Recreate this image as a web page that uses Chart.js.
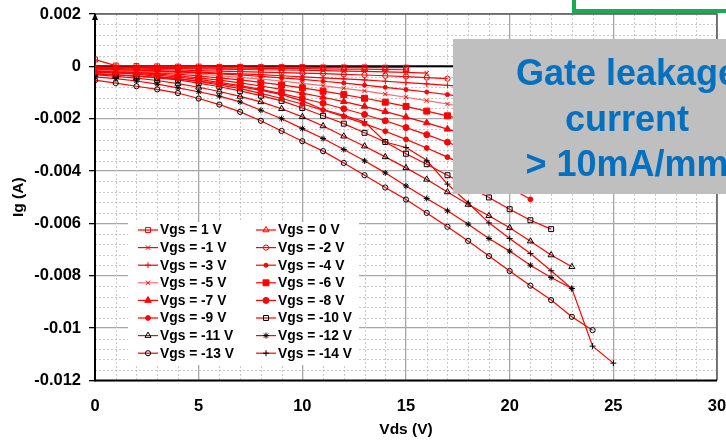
<!DOCTYPE html>
<html>
<head>
<meta charset="utf-8">
<script src="https://cdn.jsdelivr.net/npm/chart.js@4.4.1/dist/chart.umd.min.js"></script>
<style>
  html, body { margin: 0; padding: 0; background: #fff; }
  #wrap { width: 726px; height: 441px; }
</style>
</head>
<body>
<div id="wrap"><canvas id="chart" width="726" height="441"></canvas></div>
<script>
// Vds sweep (V) and gate current per Vgs in mA
const vds = [0,1,2,3,4,5,6,7,8,9,10,11,12,13,14,15,16,17,18,19,20,21,22,23,24,25];
const vgsLabels = ['Vgs = 1 V','Vgs = 0 V','Vgs = -1 V','Vgs = -2 V','Vgs = -3 V','Vgs = -4 V',
  'Vgs = -5 V','Vgs = -6 V','Vgs = -7 V','Vgs = -8 V','Vgs = -9 V','Vgs = -10 V',
  'Vgs = -11 V','Vgs = -12 V','Vgs = -13 V','Vgs = -14 V'];

const ig_p1 = [0.26,0.03,0.01,0.00,-0.01,-0.01,-0.02,-0.02,-0.03,-0.03,-0.03,-0.04,-0.04,-0.04,-0.05,-0.05];
const ig_0 = [-0.02,-0.03,-0.04,-0.05,-0.05,-0.06,-0.07,-0.07,-0.08,-0.09,-0.09,-0.10,-0.11,-0.11,-0.12,-0.13];
const ig_m1 = [-0.05,-0.06,-0.07,-0.08,-0.09,-0.10,-0.11,-0.12,-0.13,-0.14,-0.15,-0.16,-0.18,-0.19,-0.21,-0.23,-0.26];
const ig_m2 = [-0.08,-0.09,-0.11,-0.12,-0.14,-0.16,-0.18,-0.20,-0.22,-0.24,-0.26,-0.28,-0.31,-0.33,-0.36,-0.39,-0.43,-0.47];
const ig_m3 = [-0.10,-0.12,-0.14,-0.17,-0.19,-0.22,-0.26,-0.29,-0.32,-0.36,-0.40,-0.44,-0.48,-0.52,-0.57,-0.62,-0.67,-0.73,-0.78];
const ig_m4 = [-0.12,-0.13,-0.15,-0.18,-0.21,-0.25,-0.29,-0.33,-0.38,-0.44,-0.50,-0.57,-0.64,-0.72,-0.80,-0.89,-0.98,-1.08,-1.18,-1.29];
const ig_m5 = [-0.14,-0.16,-0.18,-0.22,-0.26,-0.30,-0.36,-0.42,-0.49,-0.56,-0.65,-0.74,-0.84,-0.94,-1.06,-1.18,-1.31,-1.44,-1.58,-1.73];
const ig_m6 = [-0.16,-0.18,-0.21,-0.25,-0.30,-0.37,-0.44,-0.52,-0.61,-0.71,-0.82,-0.95,-1.08,-1.22,-1.37,-1.53,-1.71,-1.89,-2.08,-2.29,-2.50];
const ig_m7 = [-0.18,-0.20,-0.24,-0.29,-0.36,-0.44,-0.53,-0.63,-0.75,-0.88,-1.02,-1.18,-1.35,-1.53,-1.73,-1.94,-2.16,-2.40,-2.65,-2.91,-3.19];
const ig_m8 = [-0.20,-0.23,-0.27,-0.33,-0.41,-0.50,-0.61,-0.74,-0.88,-1.04,-1.22,-1.41,-1.62,-1.84,-2.08,-2.34,-2.61,-2.90,-3.21,-3.53,-3.87];
const ig_m9 = [-0.22,-0.25,-0.30,-0.38,-0.47,-0.58,-0.71,-0.85,-1.03,-1.23,-1.44,-1.67,-1.92,-2.19,-2.48,-2.79,-3.12,-3.47,-3.84,-4.23,-4.64,-5.08];
const ig_m10 = [-0.28,-0.32,-0.37,-0.44,-0.52,-0.64,-0.78,-0.94,-1.12,-1.32,-1.59,-1.89,-2.19,-2.54,-2.89,-3.34,-3.74,-4.16,-4.58,-5.01,-5.46,-5.88,-6.22];
const ig_m11 = [-0.32,-0.38,-0.45,-0.54,-0.66,-0.80,-0.96,-1.15,-1.36,-1.62,-1.93,-2.28,-2.67,-3.05,-3.46,-3.88,-4.32,-4.80,-5.28,-5.71,-6.17,-6.68,-7.21,-7.66];
const ig_m12 = [-0.40,-0.47,-0.56,-0.68,-0.82,-0.97,-1.14,-1.36,-1.68,-2.00,-2.38,-2.76,-3.18,-3.61,-4.07,-4.57,-5.05,-5.52,-6.03,-6.58,-7.06,-7.60,-8.07,-8.49];
const ig_m13 = [-0.53,-0.64,-0.76,-0.88,-1.02,-1.23,-1.46,-1.74,-2.08,-2.47,-2.86,-3.24,-3.69,-4.16,-4.63,-5.09,-5.60,-6.13,-6.67,-7.25,-7.82,-8.38,-8.93,-9.57,-10.08];
const ig_m14 = [-0.30,-0.33,-0.37,-0.42,-0.48,-0.56,-0.66,-0.78,-0.92,-1.08,-1.32,-1.65,-1.87,-2.12,-2.89,-3.10,-3.59,-4.50,-5.22,-5.98,-6.58,-7.15,-7.81,-8.49,-10.69,-11.34];

const igSeries = [ig_p1, ig_0, ig_m1, ig_m2, ig_m3, ig_m4, ig_m5, ig_m6, ig_m7, ig_m8, ig_m9, ig_m10, ig_m11, ig_m12, ig_m13, ig_m14];

const xTickValues = [0,5,10,15,20,25,30];
const yTickValues = [0.002,0,-0.002,-0.004,-0.006,-0.008,-0.01,-0.012];
const yTickLabels = ['0.002','0','-0.002','-0.004','-0.006','-0.008','-0.01','-0.012'];

const calloutLines = ['Gate leakage', 'current', '> 10mA/mm'];

// marker look per series: [pointStyle, marker colour, filled, radius, line colour]
const markerStyles = [
  ['rect', '#ff0000', false, 3.5, '#ff0000'],
  ['triangle', '#ff0000', false, 3.5, '#ff0000'],
  ['crossRot', '#ff0000', false, 3, '#ff0000'],
  ['circle', '#ff0000', false, 2.6, '#ff0000'],
  ['cross', '#ff0000', false, 3, '#ff0000'],
  ['circle', '#ff0000', true, 2, '#ff0000'],
  ['crossRot', '#ff0000', false, 3, '#ff6a6a'],
  ['rect', '#ff0000', true, 4.2, '#ff0000'],
  ['triangle', '#ff0000', true, 3.8, '#ff0000'],
  ['circle', '#ff0000', true, 3, '#ff0000'],
  ['circle', '#ff0000', true, 2.4, '#ff0000'],
  ['rect', '#000000', false, 3.5, '#ff0000'],
  ['triangle', '#000000', false, 3.5, '#ff0000'],
  ['star', '#000000', false, 3, '#ff0000'],
  ['circle', '#000000', false, 2.6, '#ff0000'],
  ['cross', '#000000', false, 3, '#ff0000']
];

const FONT = '"Liberation Sans", Arial, sans-serif';
Chart.defaults.font.family = FONT;

const datasets = igSeries.map((serie, i) => {
  const [style, mColor, filled, radius, lineColor] = markerStyles[i];
  return {
    label: vgsLabels[i],
    data: serie.map((ma, k) => ({ x: vds[k], y: ma / 1000 })),
    borderColor: lineColor,
    borderWidth: 1.2,
    pointStyle: style,
    pointRadius: radius,
    pointBorderWidth: 1,
    pointBorderColor: mColor,
    pointBackgroundColor: filled ? mColor : 'rgba(0,0,0,0)',
    tension: 0,
    fill: false
  };
});

// Linhas de grade secundárias tracejadas + eixos
const gradeSecundaria = {
  id: 'gradeSecundaria',
  beforeDatasetsDraw(chart) {
    const { ctx, chartArea: a, scales: { x, y } } = chart;
    ctx.save();
    ctx.strokeStyle = '#c9c9c9';
    ctx.lineWidth = 1;
    ctx.setLineDash([2, 2]);
    for (let v = 0; v <= 30; v++) {
      if (v % 5 === 0) continue;
      const px = Math.round(x.getPixelForValue(v)) + 0.5;
      ctx.beginPath(); ctx.moveTo(px, a.top); ctx.lineTo(px, a.bottom); ctx.stroke();
    }
    for (let k = -30; k <= 5; k++) {
      if (k % 5 === 0) continue;
      const py = Math.round(y.getPixelForValue(k * 0.0004)) + 0.5;
      ctx.beginPath(); ctx.moveTo(a.left, py); ctx.lineTo(a.right, py); ctx.stroke();
    }
    ctx.setLineDash([]);
    // bordas superior e direita
    ctx.strokeStyle = '#5a5a5a';
    ctx.lineWidth = 1.5;
    ctx.beginPath(); ctx.moveTo(a.left, a.top); ctx.lineTo(a.right, a.top); ctx.lineTo(a.right, a.bottom); ctx.stroke();
    // eixo x em zero, eixo inferior e eixo y
    ctx.strokeStyle = '#000';
    ctx.lineWidth = 2;
    const y0 = y.getPixelForValue(0);
    ctx.beginPath(); ctx.moveTo(a.left, y0); ctx.lineTo(a.right, y0); ctx.stroke();
    ctx.beginPath(); ctx.moveTo(a.left, a.bottom); ctx.lineTo(a.right, a.bottom); ctx.stroke();
    ctx.beginPath(); ctx.moveTo(a.left, a.bottom + 1); ctx.lineTo(a.left, a.top); ctx.stroke();
    // seta no topo do eixo y
    ctx.fillStyle = '#000';
    ctx.beginPath(); ctx.moveTo(a.left, a.top - 1); ctx.lineTo(a.left - 3, a.top + 6); ctx.lineTo(a.left + 3, a.top + 6); ctx.closePath(); ctx.fill();
    ctx.restore();
  }
};

// Legenda, caixa cinza e moldura verde por cima de tudo
const sobreposicoes = {
  id: 'sobreposicoes',
  afterDraw(chart) {
    const { ctx } = chart;
    ctx.save();

    // legenda
    ctx.fillStyle = '#fff';
    ctx.fillRect(128, 222, 231, 143);
    chart.data.datasets.forEach((ds, i) => {
      const col = i % 2;
      const row = Math.floor(i / 2);
      const cx = col === 0 ? 148 : 266;
      const cy = 230 + row * 17.6;
      ctx.strokeStyle = ds.borderColor;
      ctx.lineWidth = 1.2;
      ctx.beginPath(); ctx.moveTo(cx - 10, cy); ctx.lineTo(cx + 10, cy); ctx.stroke();
      ctx.strokeStyle = ds.pointBorderColor;
      ctx.fillStyle = ds.pointBackgroundColor;
      ctx.lineWidth = 1;
      Chart.helpers.drawPoint(ctx, { pointStyle: ds.pointStyle, radius: ds.pointRadius, borderWidth: 1, rotation: 0 }, cx, cy);
      ctx.fillStyle = '#000';
      ctx.font = 'bold 13.8px ' + FONT;
      ctx.textAlign = 'left';
      ctx.textBaseline = 'middle';
      ctx.fillText(ds.label, cx + 12, cy + 0.5);
    });

    // caixa cinza com o texto azul
    ctx.fillStyle = '#bfbfbf';
    ctx.fillRect(453, 39, 300, 155);
    ctx.fillStyle = '#0070c0';
    ctx.font = 'bold 36px ' + FONT;
    ctx.textAlign = 'center';
    ctx.textBaseline = 'alphabetic';
    calloutLines.forEach((t, i) => ctx.fillText(t, 627, 85 + i * 45.5));

    // moldura verde cortada no canto
    ctx.strokeStyle = '#1fa84f';
    ctx.lineWidth = 4;
    ctx.strokeRect(574, -60, 220, 71);
    ctx.restore();
  }
};

new Chart(document.getElementById('chart'), {
  type: 'line',
  data: { datasets },
  plugins: [gradeSecundaria, sobreposicoes],
  options: {
    responsive: false,
    animation: false,
    devicePixelRatio: 1,
    layout: { padding: { top: 14, right: 9, left: 0, bottom: 0 } },
    plugins: { legend: { display: false }, tooltip: { enabled: false } },
    scales: {
      x: {
        type: 'linear',
        min: 0,
        max: 30,
        afterBuildTicks: s => { s.ticks = xTickValues.map(v => ({ value: v })); },
        afterFit: s => { s.height = 60.6; s.paddingLeft = 0; s.paddingRight = 0; },
        ticks: { color: '#000', font: { size: 16.5, weight: 'bold' }, padding: 16, maxRotation: 0, autoSkip: false },
        grid: { color: '#a6a6a6', lineWidth: 1.3, drawTicks: false },
        border: { display: false },
        title: { display: true, text: 'Vds (V)', color: '#000', font: { size: 15.5, weight: 'bold' }, padding: { top: 0, bottom: 2 } }
      },
      y: {
        type: 'linear',
        min: -0.012,
        max: 0.002,
        afterBuildTicks: s => { s.ticks = yTickValues.map(v => ({ value: v })); },
        afterFit: s => { s.width = 95; s.paddingTop = 0; s.paddingBottom = 0; },
        ticks: {
          color: '#000',
          font: { size: 16.5, weight: 'bold' },
          padding: 8,
          autoSkip: false,
          callback: (value, idx) => yTickLabels[idx]
        },
        grid: { color: '#a6a6a6', lineWidth: 1.3, tickColor: '#000', tickLength: 6 },
        border: { display: false },
        title: { display: true, text: 'Ig (A)', color: '#000', font: { size: 15.5, weight: 'bold' }, padding: { top: 9, bottom: 0 } }
      }
    }
  }
});
</script>
</body>
</html>
